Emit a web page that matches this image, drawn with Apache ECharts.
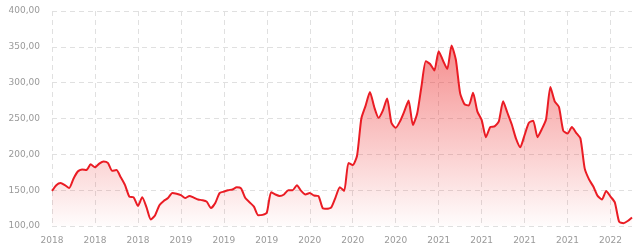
<!DOCTYPE html>
<html>
<head>
<meta charset="utf-8">
<script src="https://cdn.jsdelivr.net/npm/echarts@6/dist/echarts.min.js"></script>
<style>
html,body{margin:0;padding:0;background:#fff;}
#chart{width:639px;height:252px;}
</style>
</head>
<body>
<div id="chart"></div>
<script>
// Tick labels shown every `labelEvery` points on the category axis
var tickLabels = ['2018','2018','2018','2019','2019','2019','2020','2020','2020','2021','2021','2021','2021','2022'];
var labelEvery = 10;

// Price series, one value per point
var prices = [
  149,157,160,157,153,166,176,179,178,186,
  182,187,190,188,177,178,168,157,141,140,
  128,140,126,109,115,129,135,139,146,145,
  143,139,142,139.5,137,136,134,125,132,146,
  148,150,151,154,152.5,139,133,127,115,115.5,
  118.6,147,144,142,144,150,150,157,149,144,
  146,142.5,142,125,124,126,140,154,149,188,
  185,198,250,268,287,266,251,261,278,244,
  237,246,260,275,241,257,295,330,326,317,
  344,331,319,352,332,285,270,268,286,260,
  248,224,238,239,246,274,258,242,222,210,
  227,244,247,224,235,249,294,274,266,233,
  229,238,230,222,180,165,155,142,137,149,
  141,133,106,104,107,112
];

var categories = prices.map(function(_, i){ return String(i); });

var chart = echarts.init(document.getElementById('chart'));
chart.setOption({
  animation: false,
  backgroundColor: '#fff',
  grid: { left: 52, right: 7, top: 11, bottom: 26 },
  xAxis: {
    type: 'category',
    data: categories,
    boundaryGap: false,
    axisLine: { show: false },
    axisTick: { show: false },
    axisLabel: {
      interval: labelEvery - 1,
      color: '#999',
      fontSize: 9,
      fontFamily: 'DejaVu Sans',
      margin: 10,
      formatter: function(v, i){ return i % labelEvery === 0 ? (tickLabels[i / labelEvery] || '') : ''; }
    },
    splitLine: { show: true, interval: labelEvery - 1, lineStyle: { color: '#e0e0e0', type: [5, 4], width: 1 } }
  },
  yAxis: {
    type: 'value',
    min: 100, max: 400, interval: 50,
    axisLine: { show: false },
    axisTick: { show: false },
    axisLabel: {
      color: '#999',
      fontSize: 9,
      fontFamily: 'DejaVu Sans',
      margin: 12,
      formatter: function(v){ return v.toFixed(2).replace('.', ','); }
    },
    splitLine: { show: true, lineStyle: { color: '#e0e0e0', type: [5, 4], width: 1 } }
  },
  series: [{
    type: 'line',
    data: prices,
    symbol: 'none',
    smooth: 0.2,
    lineStyle: { color: '#ea1c24', width: 2 },
    areaStyle: {
      origin: 'start',
      color: new echarts.graphic.LinearGradient(0, 0, 0, 1, [
        { offset: 0, color: 'rgba(236,40,40,0.75)' },
        { offset: 1, color: 'rgba(236,40,40,0.02)' }
      ])
    }
  }]
});
</script>
</body>
</html>
